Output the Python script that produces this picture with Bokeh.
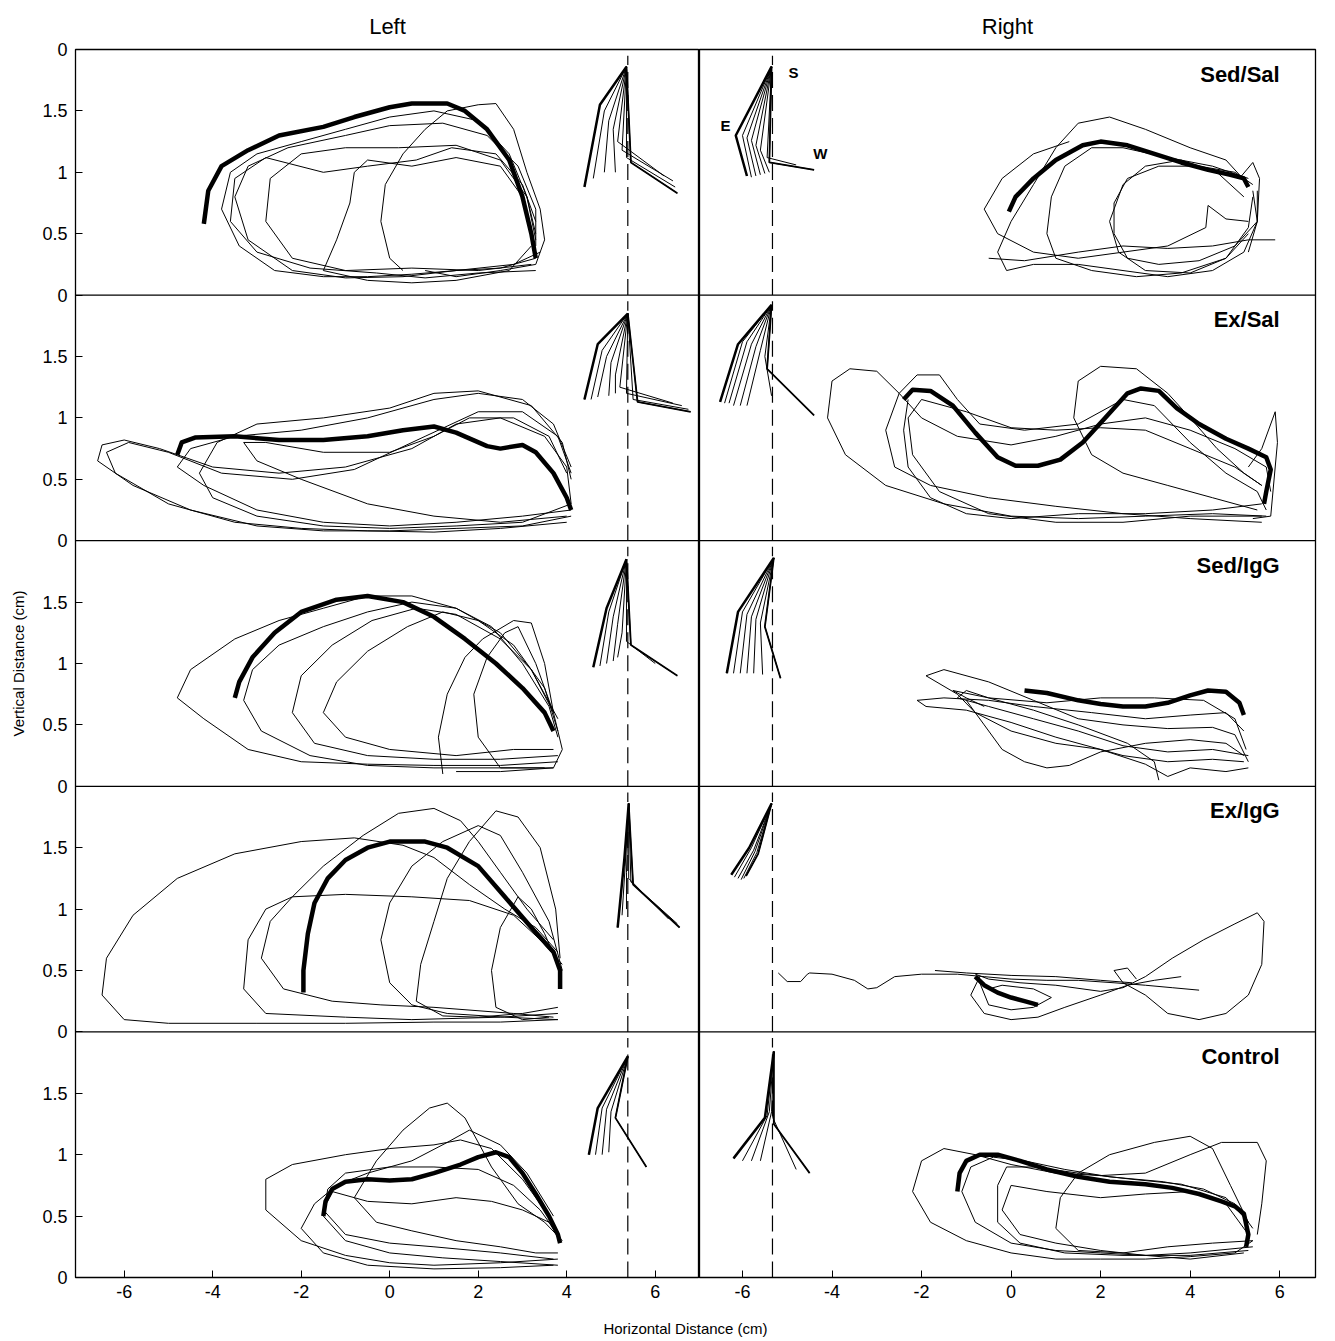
from bokeh.plotting import figure
from bokeh.models import Range1d, FixedTicker, Label, Span
from bokeh.layouts import row, column
from bokeh.embed import file_html
from bokeh.resources import INLINE

# ---------------- data ----------------
SIDES = ["Left", "Right"]
GROUPS = ["Sed/Sal", "Ex/Sal", "Sed/IgG", "Ex/IgG", "Control"]
X_LEFT_RANGE = (-7.1, 7.0)
X_RIGHT_RANGE = (-6.96, 6.8)
X_TICKS = [-6, -4, -2, 0, 2, 4, 6]
X_TICK_LABELS = ["-6", "-4", "-2", "0", "2", "4", "6"]
Y_TICKS = [0, 0.5, 1, 1.5]
Y_TICK_LABELS = ["0", "0.5", "1", "1.5"]
PANEL_SPAN = 2.0
DASH_X_LEFT = 5.38
DASH_X_RIGHT = -5.33
DASH_TOP = 1.95
JOINT_LABELS = ["S", "E", "W"]
JOINT_LABEL_XY = [(-4.86, 1.81), (-6.38, 1.38), (-4.26, 1.15)]

# ---- Sed/Sal, left
SS_L_THICK = [(-4.2, 0.58), (-4.1, 0.85), (-3.8, 1.05), (-3.2, 1.18), (-2.5, 1.3), (-1.5, 1.37),
              (-0.8, 1.45), (0.0, 1.53), (0.5, 1.56), (1.3, 1.56), (1.7, 1.5), (2.2, 1.35),
              (2.7, 1.1), (3.0, 0.8), (3.2, 0.5), (3.3, 0.3)]
SS_L_LOOPS = [
    [(3.3, 0.3), (2.5, 0.22), (1.5, 0.2), (0.5, 0.17), (-0.5, 0.15), (-1.5, 0.15), (-2.6, 0.2), (-3.4, 0.4),
     (-3.8, 0.7), (-3.6, 1.0), (-3.0, 1.15), (-2.0, 1.25), (-1.0, 1.35), (0.0, 1.45), (1.0, 1.5), (2.0, 1.42),
     (2.7, 1.15), (3.1, 0.8), (3.3, 0.45)],
    [(3.4, 0.35), (2.8, 0.25), (1.5, 0.2), (0.3, 0.15), (-1.0, 0.14), (-2.2, 0.2), (-3.2, 0.45), (-3.5, 0.8),
     (-3.2, 1.05), (-2.3, 1.2), (-1.0, 1.3), (0.0, 1.38), (1.2, 1.4), (2.2, 1.3), (2.9, 1.05), (3.3, 0.7), (3.3, 0.4)],
    [(3.2, 0.25), (2.0, 0.2), (0.5, 0.22), (-1.0, 0.2), (-2.2, 0.3), (-2.8, 0.6), (-2.7, 0.95), (-2.0, 1.15),
     (-1.0, 1.2), (0.2, 1.2), (1.5, 1.22), (2.5, 1.1), (3.1, 0.8), (3.3, 0.5)],
    [(0.3, 0.2), (0.0, 0.3), (-0.2, 0.6), (-0.1, 0.9), (0.3, 1.15), (0.8, 1.35), (1.3, 1.5), (2.0, 1.55),
     (2.4, 1.56), (2.8, 1.35), (3.1, 1.0), (3.4, 0.7), (3.5, 0.45), (3.3, 0.25), (2.5, 0.2), (1.5, 0.15), (0.8, 0.2)],
    [(3.2, 0.4), (2.7, 0.2), (1.5, 0.12), (0.5, 0.1), (-0.5, 0.12), (-1.5, 0.2), (-1.2, 0.45), (-0.9, 0.75),
     (-0.8, 1.0), (-0.5, 1.1), (0.5, 1.05), (1.5, 1.12), (2.5, 1.05), (3.0, 0.8), (3.2, 0.55)],
    [(3.3, 0.2), (2.0, 0.18), (0.8, 0.14), (-0.3, 0.18), (-1.8, 0.22), (-3.0, 0.35), (-3.6, 0.6), (-3.5, 0.95),
     (-2.8, 1.12), (-1.5, 1.0), (-0.5, 1.05), (0.6, 1.1), (1.4, 1.2), (2.4, 1.15), (3.0, 0.9), (3.3, 0.6)],
]
SS_L_SHOULDER = (5.35, 1.86)
SS_L_ELBOW = [(4.75, 1.55), (4.85, 1.5), (4.95, 1.42), (5.05, 1.35), (5.15, 1.25), (5.25, 1.18), (5.35, 1.12), (5.45, 1.08)]
SS_L_WRIST = [(4.4, 0.88), (4.6, 0.95), (4.85, 1.0), (5.1, 1.0), (6.2, 0.97), (6.4, 0.93), (6.45, 0.88), (6.5, 0.83)]

# ---- Sed/Sal, right
SS_R_THICK = [(-0.05, 0.68), (0.1, 0.8), (0.5, 0.95), (1.0, 1.1), (1.6, 1.22), (2.0, 1.25), (2.6, 1.22),
              (3.2, 1.15), (3.8, 1.08), (4.4, 1.02), (4.9, 0.98), (5.2, 0.95), (5.3, 0.88)]
SS_R_LOOPS = [
    [(5.3, 0.9), (4.8, 1.1), (4.0, 1.2), (3.0, 1.35), (2.2, 1.45), (1.5, 1.4), (1.0, 1.2), (0.5, 0.9), (0.0, 0.6),
     (-0.3, 0.35), (-0.1, 0.2), (0.5, 0.25), (1.5, 0.25), (2.5, 0.2), (3.5, 0.15), (4.5, 0.2), (5.2, 0.35),
     (5.5, 0.6), (5.4, 0.85)],
    [(5.3, 0.95), (4.5, 1.05), (3.5, 1.12), (2.5, 1.2), (1.8, 1.2), (1.2, 1.05), (0.9, 0.8), (0.8, 0.5), (1.0, 0.3),
     (1.8, 0.2), (2.8, 0.15), (3.8, 0.18), (4.8, 0.3), (5.3, 0.55), (5.4, 0.8)],
    [(5.4, 0.9), (5.0, 1.0), (4.2, 1.05), (3.3, 1.05), (2.6, 0.95), (2.3, 0.75), (2.3, 0.5), (2.6, 0.3), (3.3, 0.25),
     (4.2, 0.28), (5.0, 0.4), (5.5, 0.6), (5.5, 0.85)],
    [(5.2, 0.8), (4.6, 1.0), (3.8, 1.1), (3.0, 1.05), (2.5, 0.9), (2.2, 0.6), (2.4, 0.35), (3.0, 0.2), (4.0, 0.18),
     (4.8, 0.3), (5.3, 0.5)],
    [(5.3, 0.6), (4.8, 0.62), (4.4, 0.73), (4.35, 0.55), (3.5, 0.4), (2.5, 0.35), (1.5, 0.3), (0.5, 0.35),
     (-0.3, 0.5), (-0.6, 0.7), (-0.2, 0.95), (0.5, 1.15), (1.3, 1.25)],
    [(-0.5, 0.3), (0.3, 0.28), (1.5, 0.35), (2.5, 0.4), (3.5, 0.38), (4.5, 0.4), (5.3, 0.45), (5.9, 0.45)],
    [(5.1, 0.95), (5.4, 1.08), (5.55, 0.95), (5.5, 0.6), (5.3, 0.35)],
]
SS_R_SHOULDER = (-5.35, 1.86)
SS_R_ELBOW = [(-6.15, 1.3), (-6.0, 1.3), (-5.9, 1.28), (-5.8, 1.26), (-5.7, 1.22), (-5.6, 1.18), (-5.45, 1.12), (-5.4, 1.08)]
SS_R_WRIST = [(-5.9, 0.97), (-5.8, 0.96), (-5.7, 0.97), (-5.6, 0.98), (-5.5, 0.99), (-5.4, 1.0), (-4.8, 1.06), (-4.4, 1.02)]

# ---- Ex/Sal, left
ES_L_THICK = [(-4.8, 0.7), (-4.7, 0.8), (-4.4, 0.84), (-3.5, 0.85), (-2.5, 0.82), (-1.5, 0.82), (-0.5, 0.85),
              (0.3, 0.9), (1.0, 0.93), (1.5, 0.88), (2.2, 0.77), (2.5, 0.75), (3.0, 0.78), (3.3, 0.72),
              (3.7, 0.55), (4.0, 0.35), (4.1, 0.25)]
ES_L_LOOPS = [
    [(4.1, 0.2), (3.0, 0.12), (1.5, 0.1), (0.0, 0.08), (-1.5, 0.08), (-3.0, 0.12), (-4.5, 0.25), (-5.8, 0.45),
     (-6.6, 0.65), (-6.5, 0.78), (-6.0, 0.82), (-5.2, 0.75), (-4.0, 0.6), (-2.5, 0.55), (-1.0, 0.6), (0.5, 0.75),
     (1.5, 0.95), (2.5, 1.0), (3.5, 0.85), (4.0, 0.6), (4.1, 0.3)],
    [(4.0, 0.15), (2.5, 0.1), (1.0, 0.07), (-0.5, 0.08), (-2.0, 0.1), (-3.5, 0.15), (-5.0, 0.3), (-6.2, 0.55),
     (-6.4, 0.72), (-5.9, 0.8), (-5.0, 0.72), (-3.8, 0.55), (-2.2, 0.5), (-0.8, 0.58), (0.8, 0.85), (2.0, 1.05),
     (3.0, 1.05), (3.8, 0.85), (4.1, 0.55)],
    [(4.1, 0.25), (3.0, 0.2), (1.5, 0.15), (0.0, 0.12), (-1.5, 0.15), (-3.0, 0.25), (-4.2, 0.45), (-4.8, 0.6),
     (-4.5, 0.75), (-3.5, 0.85), (-2.0, 0.9), (-0.5, 1.0), (1.0, 1.15), (2.0, 1.2), (3.0, 1.15), (3.7, 0.95), (4.1, 0.6)],
    [(4.1, 0.3), (3.0, 0.15), (1.5, 0.12), (0.0, 0.1), (-1.5, 0.12), (-3.0, 0.2), (-4.0, 0.35), (-4.3, 0.55),
     (-3.9, 0.8), (-3.0, 0.95), (-1.5, 1.0), (0.0, 1.08), (1.0, 1.2), (2.0, 1.22), (3.2, 1.1), (3.9, 0.8), (4.1, 0.5)],
    [(4.0, 0.2), (2.5, 0.15), (1.0, 0.2), (-0.5, 0.3), (-2.0, 0.5), (-3.0, 0.65), (-3.3, 0.8), (-2.8, 0.8),
     (-1.5, 0.72), (0.0, 0.72), (1.0, 0.85), (1.8, 1.0), (2.8, 1.0), (3.6, 0.85), (4.0, 0.55)],
]
ES_L_SHOULDER = (5.38, 1.85)
ES_L_ELBOW = [(4.7, 1.6), (4.8, 1.55), (4.9, 1.5), (5.0, 1.45), (5.1, 1.35), (5.2, 1.25), (5.35, 1.2), (5.5, 1.15), (5.6, 1.13)]
ES_L_WRIST = [(4.4, 1.15), (4.55, 1.15), (4.7, 1.17), (4.95, 1.18), (5.1, 1.2), (6.4, 1.12), (6.6, 1.1), (6.75, 1.07), (6.8, 1.05)]

# ---- Ex/Sal, right
ES_R_THICK = [(-2.4, 1.15), (-2.2, 1.23), (-1.8, 1.22), (-1.3, 1.1), (-0.8, 0.88), (-0.3, 0.68), (0.1, 0.61),
              (0.6, 0.61), (1.1, 0.66), (1.6, 0.8), (2.1, 1.0), (2.6, 1.2), (2.9, 1.24), (3.3, 1.22), (3.7, 1.08),
              (4.2, 0.95), (4.8, 0.83), (5.3, 0.75), (5.7, 0.68), (5.8, 0.58), (5.7, 0.4), (5.65, 0.3)]
ES_R_LOOPS = [
    [(5.7, 0.2), (4.5, 0.22), (3.0, 0.2), (1.5, 0.18), (0.0, 0.2), (-1.5, 0.3), (-2.8, 0.45), (-3.7, 0.7),
     (-4.1, 1.0), (-4.0, 1.3), (-3.6, 1.4), (-3.0, 1.38), (-2.5, 1.2), (-2.0, 1.0), (-1.2, 0.85), (0.0, 0.78),
     (1.0, 0.85), (2.0, 0.95), (3.0, 1.0), (4.0, 0.9), (5.0, 0.75), (5.7, 0.6), (5.8, 0.4)],
    [(5.6, 0.15), (4.0, 0.18), (2.5, 0.22), (1.0, 0.28), (-0.5, 0.35), (-1.8, 0.45), (-2.6, 0.6), (-2.8, 0.9),
     (-2.5, 1.2), (-2.1, 1.35), (-1.6, 1.35), (-1.2, 1.15), (-0.7, 0.95), (0.3, 0.9), (1.5, 0.95), (2.5, 1.15),
     (3.2, 1.1), (4.0, 0.8), (4.8, 0.55), (5.5, 0.4), (5.7, 0.25)],
    [(5.6, 0.2), (4.0, 0.2), (2.5, 0.15), (1.0, 0.15), (-0.5, 0.22), (-1.6, 0.4), (-2.2, 0.7), (-2.3, 1.0),
     (-2.0, 1.15), (-1.0, 1.05), (0.0, 0.92), (1.0, 0.9), (2.0, 0.92), (3.0, 0.9), (4.0, 0.75), (5.0, 0.6), (5.6, 0.45)],
    [(5.5, 0.25), (4.5, 0.35), (3.5, 0.45), (2.5, 0.55), (1.8, 0.7), (1.4, 1.0), (1.5, 1.3), (2.0, 1.42),
     (2.8, 1.4), (3.5, 1.2), (4.0, 1.0), (4.6, 0.75), (5.2, 0.55), (5.6, 0.45)],
    [(5.3, 0.6), (5.6, 0.75), (5.9, 1.05), (5.95, 0.8), (5.8, 0.2), (5.4, 0.18)],
    [(5.6, 0.3), (4.5, 0.25), (3.0, 0.22), (1.5, 0.22), (0.0, 0.18), (-1.0, 0.22), (-1.8, 0.35), (-2.3, 0.6),
     (-2.4, 0.9), (-2.3, 1.15)],
]
ES_R_SHOULDER = (-5.35, 1.92)
ES_R_ELBOW = [(-6.1, 1.6), (-6.0, 1.62), (-5.9, 1.62), (-5.8, 1.6), (-5.7, 1.58), (-5.6, 1.55), (-5.5, 1.5), (-5.45, 1.4)]
ES_R_WRIST = [(-6.5, 1.13), (-6.4, 1.12), (-6.3, 1.12), (-6.2, 1.1), (-6.05, 1.1), (-5.9, 1.1), (-5.35, 1.18), (-4.4, 1.02)]

# ---- Sed/IgG, left
SI_L_THICK = [(-3.5, 0.72), (-3.4, 0.85), (-3.1, 1.05), (-2.6, 1.25), (-2.0, 1.42), (-1.2, 1.52), (-0.5, 1.55),
              (0.3, 1.5), (1.0, 1.38), (1.7, 1.2), (2.4, 1.0), (3.0, 0.8), (3.5, 0.6), (3.7, 0.45)]
SI_L_LOOPS = [
    [(3.8, 0.2), (2.5, 0.17), (1.0, 0.17), (-0.5, 0.18), (-2.0, 0.2), (-3.2, 0.3), (-4.2, 0.55), (-4.8, 0.72),
     (-4.5, 0.95), (-3.5, 1.2), (-2.5, 1.35), (-1.5, 1.45), (-0.5, 1.55), (0.5, 1.55), (1.5, 1.45), (2.3, 1.3),
     (3.0, 1.0), (3.6, 0.65), (3.8, 0.4)],
    [(3.7, 0.15), (2.5, 0.15), (1.0, 0.15), (-0.5, 0.17), (-1.8, 0.25), (-2.9, 0.45), (-3.3, 0.7), (-3.1, 0.95),
     (-2.5, 1.15), (-1.5, 1.3), (-0.5, 1.42), (0.5, 1.5), (1.5, 1.45), (2.5, 1.25), (3.2, 0.95), (3.7, 0.6)],
    [(3.8, 0.25), (2.5, 0.22), (1.0, 0.22), (-0.5, 0.25), (-1.7, 0.35), (-2.2, 0.6), (-2.0, 0.9), (-1.3, 1.15),
     (-0.4, 1.35), (0.6, 1.45), (1.5, 1.4), (2.5, 1.2), (3.2, 0.95), (3.8, 0.55)],
    [(3.7, 0.3), (2.8, 0.3), (1.5, 0.25), (0.0, 0.3), (-1.0, 0.4), (-1.5, 0.6), (-1.2, 0.85), (-0.5, 1.1),
     (0.4, 1.3), (1.2, 1.42), (2.0, 1.35), (2.8, 1.15), (3.5, 0.8), (3.8, 0.45)],
    [(1.2, 0.1), (1.1, 0.4), (1.3, 0.75), (1.7, 1.05), (2.1, 1.2), (2.8, 1.35), (3.2, 1.33), (3.5, 1.0),
     (3.7, 0.6), (3.9, 0.3), (3.7, 0.15), (2.5, 0.12), (1.5, 0.12)],
    [(3.5, 0.15), (2.5, 0.15), (2.0, 0.4), (1.9, 0.75), (2.2, 1.05), (2.6, 1.25), (2.9, 1.3), (3.3, 1.0), (3.7, 0.6)],
]
SI_L_SHOULDER = (5.35, 1.85)
SI_L_ELBOW = [(4.9, 1.45), (4.95, 1.42), (5.05, 1.38), (5.15, 1.32), (5.25, 1.25), (5.35, 1.18), (5.45, 1.15)]
SI_L_WRIST = [(4.6, 0.97), (4.75, 0.98), (4.9, 1.0), (5.05, 1.02), (5.15, 1.05), (6.0, 1.0), (6.5, 0.9)]

# ---- Sed/IgG, right
SI_R_THICK = [(0.3, 0.78), (0.8, 0.76), (1.5, 0.7), (2.0, 0.67), (2.5, 0.65), (3.0, 0.65), (3.5, 0.68),
              (4.0, 0.74), (4.4, 0.78), (4.8, 0.77), (5.1, 0.68), (5.2, 0.58)]
SI_R_LOOPS = [
    [(5.3, 0.15), (4.8, 0.12), (4.0, 0.15), (3.5, 0.08), (3.0, 0.18), (2.0, 0.3), (1.0, 0.35), (0.0, 0.45),
     (-0.8, 0.6), (-1.2, 0.75), (-1.9, 0.9), (-1.5, 0.95), (-0.5, 0.85), (0.5, 0.7), (1.5, 0.55), (2.5, 0.5),
     (3.5, 0.47), (4.5, 0.48), (5.0, 0.42), (5.3, 0.2)],
    [(5.2, 0.2), (4.5, 0.22), (3.5, 0.2), (2.5, 0.25), (1.0, 0.4), (0.0, 0.52), (-1.0, 0.62), (-1.9, 0.65),
     (-2.1, 0.7), (-1.5, 0.72), (-0.5, 0.7), (0.5, 0.65), (1.8, 0.6), (3.0, 0.55), (4.0, 0.58), (4.8, 0.6), (5.2, 0.45)],
    [(5.3, 0.25), (4.5, 0.3), (3.5, 0.28), (2.5, 0.33), (1.5, 0.45), (0.5, 0.55), (-0.5, 0.65), (-1.2, 0.72),
     (-1.0, 0.78), (-0.5, 0.72), (0.8, 0.68), (2.0, 0.72), (3.2, 0.72), (4.3, 0.7), (5.0, 0.55), (5.25, 0.3)],
    [(-1.0, 0.7), (-0.6, 0.5), (-0.2, 0.3), (0.3, 0.2), (0.8, 0.15), (1.3, 0.17), (2.0, 0.28), (3.0, 0.35),
     (4.0, 0.38), (4.8, 0.35), (5.2, 0.25)],
    [(3.3, 0.05), (3.2, 0.2), (2.6, 0.35), (1.5, 0.5), (0.5, 0.62), (-0.5, 0.72), (-1.3, 0.78), (-1.0, 0.72), (-0.6, 0.65)],
]
SI_R_SHOULDER = (-5.3, 1.86)
SI_R_ELBOW = [(-6.1, 1.42), (-6.0, 1.42), (-5.9, 1.4), (-5.8, 1.38), (-5.7, 1.36), (-5.6, 1.33), (-5.5, 1.3)]
SI_R_WRIST = [(-6.35, 0.92), (-6.2, 0.92), (-6.05, 0.92), (-5.9, 0.92), (-5.75, 0.92), (-5.55, 0.91), (-5.15, 0.88)]

# ---- Ex/IgG, left
EI_L_THICK = [(-1.95, 0.32), (-1.95, 0.5), (-1.85, 0.8), (-1.7, 1.05), (-1.4, 1.25), (-1.0, 1.4), (-0.5, 1.5),
              (0.0, 1.55), (0.8, 1.55), (1.3, 1.5), (2.0, 1.35), (2.6, 1.1), (3.2, 0.85), (3.7, 0.65),
              (3.85, 0.5), (3.85, 0.35)]
EI_L_LOOPS = [
    [(3.8, 0.1), (2.5, 0.08), (1.0, 0.08), (-1.0, 0.07), (-3.0, 0.07), (-5.0, 0.07), (-6.0, 0.1), (-6.5, 0.3),
     (-6.4, 0.6), (-5.8, 0.95), (-4.8, 1.25), (-3.5, 1.45), (-2.0, 1.55), (-0.8, 1.58), (0.3, 1.52), (1.0, 1.42),
     (1.8, 1.2), (2.6, 1.0), (3.3, 0.85), (3.8, 0.65)],
    [(3.8, 0.15), (2.5, 0.12), (0.5, 0.1), (-1.0, 0.12), (-2.8, 0.15), (-3.3, 0.35), (-3.2, 0.75), (-2.8, 1.0),
     (-2.2, 1.1), (-1.0, 1.12), (0.5, 1.1), (1.8, 1.07), (2.8, 0.95), (3.4, 0.75), (3.9, 0.55)],
    [(3.7, 0.12), (2.8, 0.15), (1.0, 0.2), (-0.2, 0.22), (-1.3, 0.25), (-2.4, 0.35), (-2.9, 0.6), (-2.7, 0.9),
     (-2.2, 1.1), (-1.5, 1.35), (-0.6, 1.6), (0.2, 1.78), (1.0, 1.82), (1.6, 1.72), (2.0, 1.55), (2.5, 1.3),
     (3.1, 1.0), (3.7, 0.75)],
    [(3.8, 0.1), (2.6, 0.12), (1.3, 0.15), (0.5, 0.22), (0.0, 0.4), (-0.2, 0.75), (0.0, 1.05), (0.5, 1.35),
     (1.2, 1.55), (2.0, 1.68), (2.5, 1.6), (3.0, 1.3), (3.6, 0.9), (3.9, 0.5)],
    [(3.8, 0.2), (3.0, 0.15), (2.0, 0.12), (1.2, 0.13), (0.6, 0.25), (0.7, 0.55), (1.0, 0.9), (1.3, 1.25),
     (1.8, 1.55), (2.4, 1.8), (2.9, 1.75), (3.4, 1.5), (3.75, 1.0), (3.85, 0.6)],
    [(3.6, 0.12), (3.0, 0.1), (2.4, 0.2), (2.3, 0.5), (2.5, 0.85), (2.9, 1.1), (3.2, 1.0), (3.5, 0.8), (3.8, 0.55)],
]
EI_L_SHOULDER = (5.4, 1.86)
EI_L_ELBOW = [(5.3, 1.4), (5.32, 1.35), (5.35, 1.3), (5.4, 1.25), (5.45, 1.22), (5.5, 1.2)]
EI_L_WRIST = [(5.15, 0.85), (5.25, 0.95), (5.35, 1.0), (6.3, 0.92), (6.5, 0.88), (6.55, 0.85)]

# ---- Ex/IgG, right
EI_R_THICK = [(-0.8, 0.45), (-0.6, 0.38), (-0.3, 0.32), (0.0, 0.28), (0.3, 0.25), (0.6, 0.22)]
EI_R_LOOPS = [
    [(-5.2, 0.48), (-5.0, 0.41), (-4.7, 0.41), (-4.55, 0.47), (-4.5, 0.48), (-4.0, 0.47), (-3.5, 0.42),
     (-3.2, 0.35), (-3.0, 0.36), (-2.6, 0.45), (-2.0, 0.47), (-1.2, 0.47), (-0.6, 0.45), (0.0, 0.43),
     (0.8, 0.42), (1.5, 0.42), (2.3, 0.4), (3.0, 0.38), (3.6, 0.36), (4.2, 0.34)],
    [(-0.8, 0.47), (-0.5, 0.43), (0.2, 0.4), (1.0, 0.38), (2.0, 0.33), (2.5, 0.36), (3.0, 0.45), (3.6, 0.6),
     (4.3, 0.75), (5.0, 0.88), (5.5, 0.97), (5.65, 0.9), (5.6, 0.55), (5.3, 0.3), (4.8, 0.15), (4.2, 0.1),
     (3.5, 0.15), (3.0, 0.3), (2.5, 0.4), (2.3, 0.5), (2.6, 0.52), (2.8, 0.43)],
    [(-0.7, 0.45), (-0.9, 0.3), (-0.6, 0.15), (0.0, 0.1), (0.6, 0.12), (1.2, 0.2), (2.0, 0.3), (2.6, 0.38),
     (3.2, 0.42), (3.8, 0.45)],
    [(-0.7, 0.4), (-0.5, 0.22), (0.0, 0.18), (0.5, 0.2), (0.9, 0.28), (0.5, 0.35), (-0.2, 0.38), (-0.5, 0.35)],
    [(-1.7, 0.5), (-1.0, 0.48), (0.0, 0.46), (1.0, 0.45), (2.0, 0.42), (2.7, 0.4)],
]
EI_R_SHOULDER = (-5.35, 1.86)
EI_R_ELBOW = [(-5.85, 1.5), (-5.8, 1.5), (-5.75, 1.48), (-5.72, 1.47), (-5.68, 1.46), (-5.65, 1.45)]
EI_R_WRIST = [(-6.25, 1.28), (-6.18, 1.26), (-6.1, 1.25), (-6.03, 1.24), (-5.97, 1.25), (-5.92, 1.27)]

# ---- Control, left
CT_L_THICK = [(-1.5, 0.5), (-1.45, 0.62), (-1.3, 0.72), (-1.0, 0.78), (-0.5, 0.8), (0.0, 0.79), (0.5, 0.8),
              (1.0, 0.85), (1.6, 0.92), (2.0, 0.98), (2.4, 1.02), (2.7, 0.98), (3.0, 0.85), (3.3, 0.68),
              (3.6, 0.5), (3.8, 0.35), (3.85, 0.28)]
CT_L_LOOPS = [
    [(3.8, 0.15), (2.5, 0.12), (1.0, 0.1), (0.0, 0.12), (-1.0, 0.18), (-2.0, 0.3), (-2.8, 0.55), (-2.8, 0.8),
     (-2.2, 0.92), (-1.0, 1.0), (0.0, 1.05), (1.0, 1.08), (1.6, 1.12), (2.3, 1.05), (3.0, 0.8), (3.6, 0.5), (3.85, 0.3)],
    [(3.7, 0.1), (2.5, 0.08), (1.0, 0.07), (-0.5, 0.1), (-1.5, 0.2), (-2.0, 0.4), (-1.7, 0.6), (-1.2, 0.75),
     (-0.5, 0.85), (0.5, 0.95), (1.3, 1.1), (1.8, 1.2), (2.5, 1.08), (3.1, 0.85), (3.7, 0.5)],
    [(3.8, 0.2), (3.3, 0.2), (2.5, 0.25), (1.5, 0.3), (0.5, 0.38), (-0.3, 0.45), (-0.8, 0.65), (-0.3, 0.95),
     (0.3, 1.2), (0.9, 1.38), (1.3, 1.42), (1.7, 1.3), (2.3, 0.9), (2.9, 0.6), (3.5, 0.45), (3.9, 0.3)],
    [(3.8, 0.1), (2.5, 0.13), (1.2, 0.16), (0.0, 0.2), (-1.0, 0.3), (-1.5, 0.5), (-1.4, 0.72), (-1.0, 0.85),
     (0.0, 0.9), (1.0, 0.9), (2.0, 0.88), (2.8, 0.75), (3.4, 0.55), (3.8, 0.35)],
    [(3.7, 0.15), (2.5, 0.2), (1.0, 0.25), (0.0, 0.28), (-1.0, 0.35), (-1.5, 0.55), (-1.3, 0.7), (-0.5, 0.62),
     (0.5, 0.6), (1.5, 0.65), (2.3, 0.62), (3.0, 0.55), (3.6, 0.45), (3.85, 0.3)],
]
CT_L_SHOULDER = (5.38, 1.8)
CT_L_ELBOW = [(4.7, 1.38), (4.8, 1.38), (4.9, 1.37), (5.0, 1.35), (5.1, 1.3)]
CT_L_WRIST = [(4.5, 1.0), (4.65, 1.0), (4.8, 1.0), (4.95, 1.02), (5.8, 0.9)]

# ---- Control, right
CT_R_THICK = [(-1.2, 0.7), (-1.15, 0.85), (-1.0, 0.95), (-0.7, 1.0), (-0.3, 1.0), (0.2, 0.95), (0.8, 0.88),
              (1.5, 0.82), (2.2, 0.78), (3.0, 0.76), (3.6, 0.73), (4.2, 0.68), (4.7, 0.62), (5.0, 0.58),
              (5.2, 0.52), (5.3, 0.35), (5.25, 0.25)]
CT_R_LOOPS = [
    [(5.4, 0.3), (5.0, 0.2), (4.0, 0.17), (3.0, 0.15), (2.0, 0.15), (1.0, 0.15), (0.0, 0.2), (-1.0, 0.3),
     (-1.8, 0.45), (-2.2, 0.7), (-2.0, 0.95), (-1.5, 1.05), (-0.8, 1.0), (0.0, 0.92), (1.0, 0.85), (2.0, 0.83),
     (3.0, 0.85), (4.0, 1.0), (4.7, 1.1), (5.5, 1.1), (5.7, 0.95), (5.6, 0.6), (5.5, 0.35)],
    [(5.4, 0.3), (4.5, 0.28), (3.5, 0.25), (2.5, 0.2), (1.5, 0.22), (1.0, 0.4), (1.1, 0.65), (1.5, 0.85),
     (2.2, 1.0), (3.2, 1.1), (4.0, 1.15), (4.5, 1.05), (4.9, 0.75), (5.3, 0.45)],
    [(5.4, 0.25), (4.0, 0.2), (3.0, 0.18), (2.0, 0.2), (1.0, 0.22), (0.0, 0.28), (-0.8, 0.45), (-1.1, 0.7),
     (-0.9, 0.9), (-0.4, 0.98), (0.3, 0.95), (1.2, 0.88), (2.2, 0.82), (3.4, 0.78), (4.3, 0.72), (5.0, 0.6), (5.4, 0.4)],
    [(5.3, 0.22), (4.0, 0.18), (2.5, 0.18), (1.2, 0.2), (0.2, 0.28), (-0.3, 0.45), (-0.3, 0.75), (-0.1, 0.9),
     (0.5, 0.9), (1.5, 0.85), (2.7, 0.8), (3.8, 0.76), (4.8, 0.65), (5.3, 0.45)],
    [(5.2, 0.2), (4.0, 0.15), (3.0, 0.18), (2.0, 0.22), (1.0, 0.28), (0.2, 0.35), (-0.2, 0.55), (0.0, 0.75),
     (0.8, 0.7), (2.0, 0.65), (3.0, 0.68), (4.0, 0.7), (4.8, 0.6), (5.3, 0.35)],
]
CT_R_SHOULDER = (-5.3, 1.84)
CT_R_ELBOW = [(-5.5, 1.3), (-5.45, 1.32), (-5.4, 1.35), (-5.35, 1.35), (-5.32, 1.3), (-5.3, 1.25)]
CT_R_WRIST = [(-6.2, 0.97), (-6.0, 0.95), (-5.8, 0.95), (-5.6, 0.95), (-4.8, 0.88), (-4.5, 0.85)]

LEFT_PANELS = [
    (SS_L_LOOPS, SS_L_THICK, SS_L_SHOULDER, SS_L_ELBOW, SS_L_WRIST),
    (ES_L_LOOPS, ES_L_THICK, ES_L_SHOULDER, ES_L_ELBOW, ES_L_WRIST),
    (SI_L_LOOPS, SI_L_THICK, SI_L_SHOULDER, SI_L_ELBOW, SI_L_WRIST),
    (EI_L_LOOPS, EI_L_THICK, EI_L_SHOULDER, EI_L_ELBOW, EI_L_WRIST),
    (CT_L_LOOPS, CT_L_THICK, CT_L_SHOULDER, CT_L_ELBOW, CT_L_WRIST),
]
RIGHT_PANELS = [
    (SS_R_LOOPS, SS_R_THICK, SS_R_SHOULDER, SS_R_ELBOW, SS_R_WRIST),
    (ES_R_LOOPS, ES_R_THICK, ES_R_SHOULDER, ES_R_ELBOW, ES_R_WRIST),
    (SI_R_LOOPS, SI_R_THICK, SI_R_SHOULDER, SI_R_ELBOW, SI_R_WRIST),
    (EI_R_LOOPS, EI_R_THICK, EI_R_SHOULDER, EI_R_ELBOW, EI_R_WRIST),
    (CT_R_LOOPS, CT_R_THICK, CT_R_SHOULDER, CT_R_ELBOW, CT_R_WRIST),
]

# ---------------- styling / layout ----------------
TICK_FONT = "Liberation Sans"
MAIN_FONT = "Liberation Sans"
N = len(GROUPS)
FRAME_H = 1228
TOP_B = 49
BOT_B = 28
LEFT_FRAME_W = 624
RIGHT_FRAME_W = 616
LEFT_B = 75
RIGHT_B = 10
XLABEL_H = 34


def xy(points):
    return [p[0] for p in points], [p[1] for p in points]


def make_column(side_idx, panels, xr, dash_x):
    is_left = side_idx == 0
    width = (LEFT_B + LEFT_FRAME_W) if is_left else (RIGHT_FRAME_W + RIGHT_B)
    p = figure(width=width, height=TOP_B + FRAME_H + BOT_B,
               x_range=Range1d(*xr), y_range=Range1d(0, N * PANEL_SPAN),
               output_backend="svg", toolbar_location=None,
               min_border_left=LEFT_B if is_left else 0,
               min_border_right=0 if is_left else RIGHT_B,
               min_border_top=TOP_B, min_border_bottom=BOT_B)
    p.extra_y_ranges = {f"p{i}": Range1d(-(N - 1 - i) * PANEL_SPAN, (i + 1) * PANEL_SPAN)
                        for i in range(N)}
    p.grid.visible = False
    p.outline_line_color = "black"
    p.outline_line_width = 1.3
    p.outline_line_alpha = 1
    p.background_fill_color = "white"
    p.border_fill_color = "white"

    p.title.text = SIDES[side_idx]
    p.title.align = "center"
    p.title.text_font = MAIN_FONT
    p.title.text_font_size = "22px"
    p.title.text_font_style = "normal"
    p.title.text_color = "black"
    p.title.standoff = 21

    xa = p.xaxis[0]
    xa.ticker = FixedTicker(ticks=X_TICKS)
    xa.major_label_overrides = dict(zip(X_TICKS, X_TICK_LABELS))
    xa.major_tick_in = 7
    xa.major_tick_out = 0
    xa.major_tick_line_color = "black"
    xa.minor_tick_line_color = None
    xa.axis_line_color = None
    xa.major_label_text_font = TICK_FONT
    xa.major_label_text_font_size = "18px"
    xa.major_label_text_color = "black"
    xa.major_label_standoff = 7

    ya = p.yaxis[0]
    if is_left:
        ticks = [t + k * PANEL_SPAN for k in range(N) for t in Y_TICKS] + [N * PANEL_SPAN]
        overrides = {}
        for k in range(N):
            for t, lab in zip(Y_TICKS, Y_TICK_LABELS):
                overrides[t + k * PANEL_SPAN] = lab
        overrides[N * PANEL_SPAN] = Y_TICK_LABELS[0]
        ya.ticker = FixedTicker(ticks=ticks)
        ya.major_label_overrides = overrides
        ya.major_tick_in = 7
        ya.major_tick_out = 0
        ya.major_tick_line_color = "black"
        ya.minor_tick_line_color = None
        ya.axis_line_color = None
        ya.major_label_text_font = TICK_FONT
        ya.major_label_text_font_size = "18px"
        ya.major_label_text_color = "black"
        ya.major_label_standoff = 8
        ya.axis_label = "Vertical Distance (cm)"
        ya.axis_label_text_font = TICK_FONT
        ya.axis_label_text_font_size = "15px"
        ya.axis_label_text_font_style = "normal"
        ya.axis_label_text_color = "black"
        ya.axis_label_standoff = 12
    else:
        ya.visible = False

    for b in range(1, N):
        p.add_layout(Span(location=b * PANEL_SPAN, dimension="width",
                          line_color="black", line_width=1.3))

    for i, (loops, thick, shoulder, elbows, wrists) in enumerate(panels):
        rn = f"p{i}"
        p.multi_line([xy(lp)[0] for lp in loops], [xy(lp)[1] for lp in loops],
                     line_color="black", line_width=1, y_range_name=rn)
        tx, ty = xy(thick)
        p.line(tx, ty, line_color="black", line_width=4.5, line_join="round", y_range_name=rn)
        sx = [[shoulder[0], e[0], w[0]] for e, w in zip(elbows, wrists)]
        sy = [[shoulder[1], e[1], w[1]] for e, w in zip(elbows, wrists)]
        p.multi_line(sx, sy, line_color="black", line_width=1, y_range_name=rn)
        p.line(sx[0], sy[0], line_color="black", line_width=2.5, y_range_name=rn)
        p.line(sx[-1], sy[-1], line_color="black", line_width=1.8, y_range_name=rn)
        p.segment(x0=[dash_x], y0=[0], x1=[dash_x], y1=[DASH_TOP], line_color="black",
                  line_width=1.2, line_dash="16 7", y_range_name=rn)
        if not is_left:
            p.add_layout(Label(x=xr[1] - 0.8, y=1.8, text=GROUPS[i], y_range_name=rn,
                               text_align="right", text_baseline="middle",
                               text_font=MAIN_FONT, text_font_size="22px",
                               text_font_style="bold", text_color="black"))
            if i == 0:
                for t, (lx, ly) in zip(JOINT_LABELS, JOINT_LABEL_XY):
                    p.add_layout(Label(x=lx, y=ly, text=t, y_range_name=rn,
                                       text_align="center", text_baseline="middle",
                                       text_font=MAIN_FONT, text_font_size="15px",
                                       text_font_style="bold", text_color="black"))
    return p


left = make_column(0, LEFT_PANELS, X_LEFT_RANGE, DASH_X_LEFT)
right = make_column(1, RIGHT_PANELS, X_RIGHT_RANGE, DASH_X_RIGHT)

total_w = LEFT_B + LEFT_FRAME_W + RIGHT_FRAME_W + RIGHT_B
xl = figure(width=total_w, height=XLABEL_H, x_range=Range1d(0, total_w), y_range=Range1d(0, XLABEL_H),
            output_backend="svg", toolbar_location=None, min_border=0)
xl.axis.visible = False
xl.grid.visible = False
xl.outline_line_color = None
xl.add_layout(Label(x=LEFT_B + LEFT_FRAME_W - 14, y=XLABEL_H - 23, text="Horizontal Distance (cm)",
                    text_align="center", text_baseline="middle",
                    text_font=TICK_FONT, text_font_size="15px", text_color="black"))

layout = column(row(left, right), xl)
open("out.html", "w").write(file_html(layout, INLINE))
